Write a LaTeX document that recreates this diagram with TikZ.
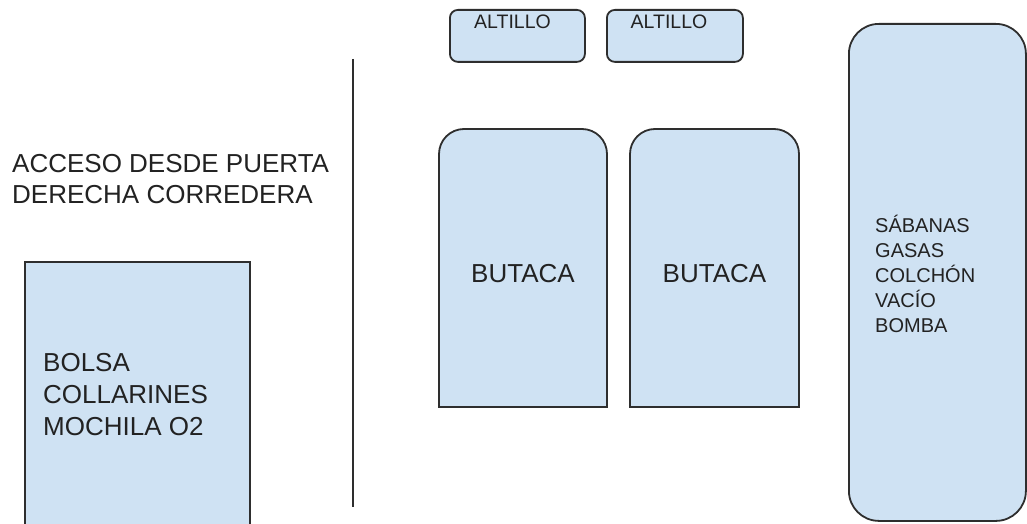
\documentclass[tikz,border=0pt]{standalone}
\usepackage{fontspec}
\setmainfont{Liberation Sans}
\definecolor{boxfill}{HTML}{CFE2F3}
\definecolor{boxline}{HTML}{2E2E2E}
\definecolor{txt}{HTML}{222222}
\begin{document}
\begin{tikzpicture}[x=1pt,y=-1pt,
  shapebox/.style={draw=boxline,line width=1.8pt,fill=boxfill},
  bigtxt/.style={inner sep=0pt,text=txt,font=\fontsize{26}{32}\selectfont},
  midtxt/.style={inner sep=0pt,text=txt,font=\fontsize{20}{25}\selectfont},
  smalltxt/.style={inner sep=0pt,text=txt,font=\fontsize{19.5}{24}\selectfont}]
\useasboundingbox (0,0) rectangle (1027,524);
\fill[white] (0,0) rectangle (1027,524);
\clip (0,0) rectangle (1027,524);

% altillos
\node[shapebox,rounded corners=8pt,minimum width=135pt,minimum height=52pt,anchor=north west] (alt1) at (449,9) {};
\node[shapebox,rounded corners=8pt,minimum width=136pt,minimum height=52pt,anchor=north west] (alt2) at (606,9) {};
\node[smalltxt,anchor=base] (alt1t) at (512.5,29) {ALTILLO};
\node[smalltxt,anchor=base] (alt2t) at (669,29) {ALTILLO};

% butacas
\draw[shapebox] (439,407) -- (439,154) arc[start angle=180,end angle=270,radius=25]
  -- (582,129) arc[start angle=270,end angle=360,radius=25] -- (607,407) -- cycle;
\draw[shapebox] (630,407) -- (630,154) arc[start angle=180,end angle=270,radius=25]
  -- (774,129) arc[start angle=270,end angle=360,radius=25] -- (799,407) -- cycle;
\coordinate (but1) at (523,268);
\coordinate (but2) at (714.5,268);
\node[bigtxt,anchor=base] (but1t) at (523,282) {BUTACA};
\node[bigtxt,anchor=base] (but2t) at (714.5,282) {BUTACA};

% right storage
\node[shapebox,rounded corners=30pt,minimum width=177pt,minimum height=497pt,anchor=north west] (right) at (848,23) {};
\node[midtxt,anchor=base west] (rightt) at (875,232)
  {\begin{tabular}[t]{@{}l@{}}SÁBANAS\\GASAS\\COLCHÓN\\VACÍO\\BOMBA\end{tabular}};

% door line
\coordinate (doortop) at (353,59);
\coordinate (doorbot) at (353,507);
\draw[line width=2pt,draw=boxline] (doortop) -- (doorbot);

% access label
\node[inner sep=0pt,text=txt,font=\fontsize{26}{31}\selectfont,anchor=base west] (acceso) at (12,172)
  {\begin{tabular}[t]{@{}l@{}}ACCESO DESDE PUERTA\\DERECHA CORREDERA\end{tabular}};

% left bag box
\node[shapebox,minimum width=225pt,minimum height=290pt,anchor=north west] (left) at (24,261) {};
\node[bigtxt,anchor=base west] (leftt) at (43,371)
  {\begin{tabular}[t]{@{}l@{}}BOLSA\\COLLARINES\\MOCHILA O2\end{tabular}};
\end{tikzpicture}
\end{document}
